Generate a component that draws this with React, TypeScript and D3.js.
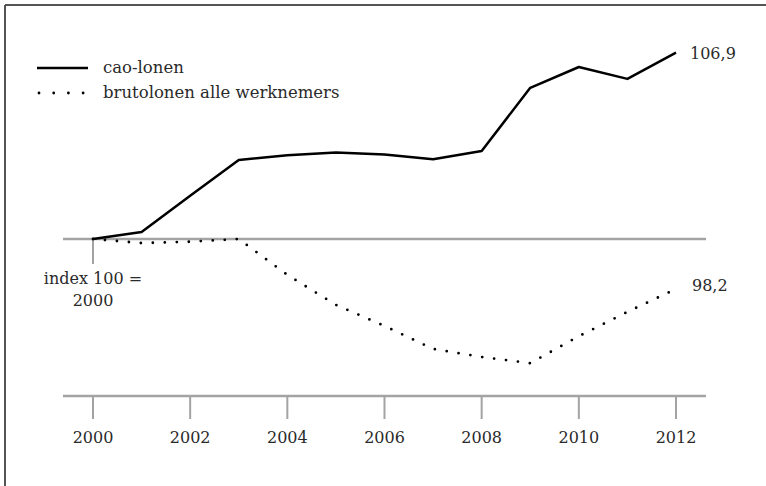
import * as d3 from "d3"

const years = [2000, 2001, 2002, 2003, 2004, 2005, 2006, 2007, 2008, 2009, 2010, 2011, 2012]
const caoLonen = [100, 100.26, 101.6, 102.93, 103.1, 103.2, 103.13, 102.95, 103.26, 105.6, 106.37, 105.93, 106.9]
const brutoLonen = [100, 99.85, 99.9, 100, 98.67, 97.56, 96.78, 95.93, 95.63, 95.4, 96.4, 97.3, 98.15]
const tickYears = [2000, 2002, 2004, 2006, 2008, 2010, 2012]
const seriesNames = ["cao-lonen", "brutolonen alle werknemers"]
const endLabels = ["106,9", "98,2"]

const W = 766
const H = 486
const FONT = "'DejaVu Serif', serif"
const INK = "#2a2a2a"
const GRID = "#a3a3a3"

export default function App() {
  const x = d3.scaleLinear().domain([2000, 2012]).range([93, 676])
  const y = d3.scaleLinear().domain([100, 106.9]).range([239, 52.7])
  const axisY = 396

  const line = d3
    .line<number>()
    .x((_, i) => x(years[i]))
    .y((d) => y(d))

  const last = years.length - 1
  const [x0, x1] = [x(2000) - 30, x(2012) + 30]

  return (
    <svg width={W} height={H} style={{ position: "absolute", left: 0, top: 0 }} fontFamily={FONT}>
      <rect width={W} height={H} fill="#fff" />
      {/* frame */}
      <line x1={5} y1={5} x2={W} y2={5} stroke="#555" strokeWidth={2} />
      <line x1={5} y1={5} x2={5} y2={H} stroke="#555" strokeWidth={2} />

      {/* index 100 baseline */}
      <line x1={x0} x2={x1} y1={y(100)} y2={y(100)} stroke={GRID} strokeWidth={2.5} />
      <line x1={x(2000)} x2={x(2000)} y1={y(100)} y2={y(100) + 25} stroke={GRID} strokeWidth={2} />
      <text x={x(2000)} y={284} textAnchor="middle" fontSize={16} fill={INK}>
        index 100 =
      </text>
      <text x={x(2000)} y={306} textAnchor="middle" fontSize={16} fill={INK}>
        2000
      </text>

      {/* x axis */}
      <line x1={x0} x2={x1} y1={axisY} y2={axisY} stroke={GRID} strokeWidth={2.5} />
      {tickYears.map((t) => (
        <g key={t}>
          <line x1={x(t)} x2={x(t)} y1={axisY} y2={axisY + 23} stroke={GRID} strokeWidth={2} />
          <text x={x(t)} y={443} textAnchor="middle" fontSize={16} fill={INK}>
            {t}
          </text>
        </g>
      ))}

      {/* series */}
      <path d={line(caoLonen) ?? ""} fill="none" stroke="#000" strokeWidth={2.5} strokeLinejoin="round" />
      <path
        d={line(brutoLonen) ?? ""}
        fill="none"
        stroke="#000"
        strokeWidth={2.8}
        strokeLinecap="round"
        strokeDasharray="0 12"
      />
      <text x={x(years[last]) + 14} y={y(caoLonen[last]) + 6} fontSize={16} fill={INK}>
        {endLabels[0]}
      </text>
      <text x={x(years[last]) + 16} y={y(brutoLonen[last]) + 2} fontSize={16} fill={INK}>
        {endLabels[1]}
      </text>

      {/* legend */}
      <line x1={37} x2={88} y1={68} y2={68} stroke="#000" strokeWidth={2.5} />
      <line x1={39} x2={85} y1={93} y2={93} stroke="#000" strokeWidth={2.8} strokeLinecap="round" strokeDasharray="0 14.7" />
      <text x={103} y={73} fontSize={16.5} fill={INK}>
        {seriesNames[0]}
      </text>
      <text x={103} y={98} fontSize={16.5} fill={INK}>
        {seriesNames[1]}
      </text>
    </svg>
  )
}
